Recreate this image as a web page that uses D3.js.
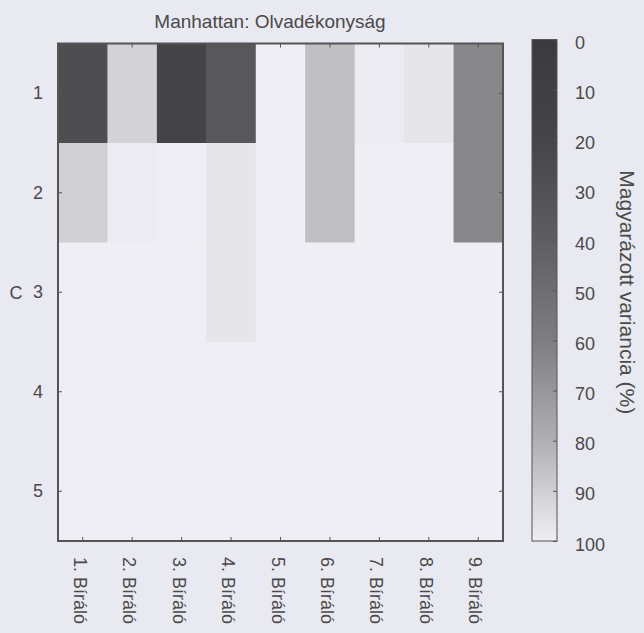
<!DOCTYPE html>
<html>
<head>
<meta charset="utf-8">
<script src="https://cdn.jsdelivr.net/npm/d3@7"></script>
<style>
  html, body { margin: 0; padding: 0; background: #e9e9f1; }
  svg { display: block; }
  text { font-family: "Liberation Sans", Arial, sans-serif; fill: #4a4a4a; }
</style>
</head>
<body>
<div id="chart"></div>
<script>
// adatok
var reviewers = ['1. Bíráló', '2. Bíráló', '3. Bíráló', '4. Bíráló', '5. Bíráló',
  '6. Bíráló', '7. Bíráló', '8. Bíráló', '9. Bíráló']
var components = [1, 2, 3, 4, 5]
// magyarázott variancia (%) komponensenként, bírálónként
var comp1 = [27, 91, 18, 35, 100, 85, 99, 97, 64]
var comp2 = [90, 99, 100, 97, 100, 85, 100, 100, 64]
var comp3 = [100, 100, 100, 97, 100, 100, 100, 100, 100]
var comp4 = [100, 100, 100, 100, 100, 100, 100, 100, 100]
var comp5 = [100, 100, 100, 100, 100, 100, 100, 100, 100]
var barTicks = [0, 10, 20, 30, 40, 50, 60, 70, 80, 90, 100]

var rows = [comp1, comp2, comp3, comp4, comp5]
var cells = []
rows.forEach((row, i) => {
  row.forEach((v, j) => {
    cells.push({ comp: components[i], reviewer: reviewers[j], value: v })
  })
})

/**
 * méretek
 */
var width = 644
var height = 633
var plot = { left: 58, right: 503, top: 43.5, bottom: 541 }
var bar = { left: 532, right: 557, top: 39.5, bottom: 541 }

/**
 * skálák
 */
var x = d3.scaleBand().domain(reviewers).range([plot.left, plot.right])
var y = d3.scaleBand().domain(components).range([plot.top, plot.bottom])
// a nyomtatott szürkeskála közepe sötétebb
var color = d3.scaleLinear()
  .domain([0, 20, 40, 60, 80, 100])
  .range(['#3b3b3d', '#454547', '#5e5e60', '#7e7e80', '#b0b0b3', '#eeeef4'])
var yBar = d3.scaleLinear().domain([0, 100]).range([bar.top, bar.bottom])

var svg = d3.select('#chart')
  .append('svg')
  .attr('width', width)
  .attr('height', height)

// cellák
svg.append('g')
  .selectAll('rect')
  .data(cells)
  .enter()
  .append('rect')
  .attr('x', d => x(d.reviewer))
  .attr('y', d => y(d.comp))
  .attr('width', x.bandwidth() + 0.5)
  .attr('height', y.bandwidth() + 0.5)
  .attr('fill', d => color(d.value))

// tengelyek (befelé mutató osztások)
var axisStyle = g => {
  g.select('.domain').remove()
  g.selectAll('line').attr('stroke', '#555')
  g.selectAll('text')
    .style('font-size', '18px')
    .attr('fill', '#4a4a4a')
}

svg.append('g')
  .attr('transform', `translate(${plot.left},0)`)
  .call(d3.axisLeft(y).tickSize(-4).tickPadding(15))
  .call(axisStyle)

svg.append('g')
  .attr('transform', `translate(${plot.right},0)`)
  .call(d3.axisRight(y).tickSize(-4).tickFormat(''))
  .call(axisStyle)

svg.append('g')
  .attr('transform', `translate(0,${plot.top})`)
  .call(d3.axisTop(x).tickSize(-4).tickFormat(''))
  .call(axisStyle)

svg.append('g')
  .attr('transform', `translate(0,${plot.bottom})`)
  .call(d3.axisBottom(x).tickSize(-4).tickFormat(''))
  .call(axisStyle)

// x feliratok, elforgatva
svg.append('g')
  .selectAll('text')
  .data(reviewers)
  .enter()
  .append('text')
  .text(d => d)
  .attr('transform', d => `translate(${x(d) + x.bandwidth() / 2 - 9},${plot.bottom + 16}) rotate(90)`)
  .attr('text-anchor', 'start')
  .style('font-size', '18px')

// keret
svg.append('rect')
  .attr('x', plot.left)
  .attr('y', plot.top)
  .attr('width', plot.right - plot.left)
  .attr('height', plot.bottom - plot.top)
  .attr('fill', 'none')
  .attr('stroke', '#555')
  .attr('stroke-width', 2)

// y címke
svg.append('text')
  .text('C')
  .attr('x', 16)
  .attr('y', y(3) + y.bandwidth() / 2)
  .attr('dy', '0.35em')
  .attr('text-anchor', 'middle')
  .style('font-size', '18px')

// cím
svg.append('text')
  .text('Manhattan: Olvadékonyság')
  .attr('x', 270)
  .attr('y', 28)
  .attr('text-anchor', 'middle')
  .style('font-size', '19px')

/**
 * színskála
 */
var grad = svg.append('defs')
  .append('linearGradient')
  .attr('id', 'grad')
  .attr('x1', 0).attr('y1', 0)
  .attr('x2', 0).attr('y2', 1)

grad.selectAll('stop')
  .data(barTicks)
  .enter()
  .append('stop')
  .attr('offset', d => d / 100)
  .attr('stop-color', d => color(d))

svg.append('rect')
  .attr('x', bar.left)
  .attr('y', bar.top)
  .attr('width', bar.right - bar.left)
  .attr('height', bar.bottom - bar.top)
  .attr('fill', 'url(#grad)')
  .attr('stroke', '#555')
  .attr('stroke-width', 1)

svg.append('g')
  .attr('transform', `translate(${bar.right},0)`)
  .call(d3.axisRight(yBar).tickValues(barTicks).tickSize(-4).tickPadding(18))
  .call(axisStyle)
  .selectAll('text')
  .attr('dy', '0.5em')

svg.append('text')
  .text('Magyarázott variancia (%)')
  .attr('transform', `translate(620,${(bar.top + bar.bottom) / 2 + 2}) rotate(90)`)
  .attr('text-anchor', 'middle')
  .style('font-size', '21px')
</script>
</body>
</html>
